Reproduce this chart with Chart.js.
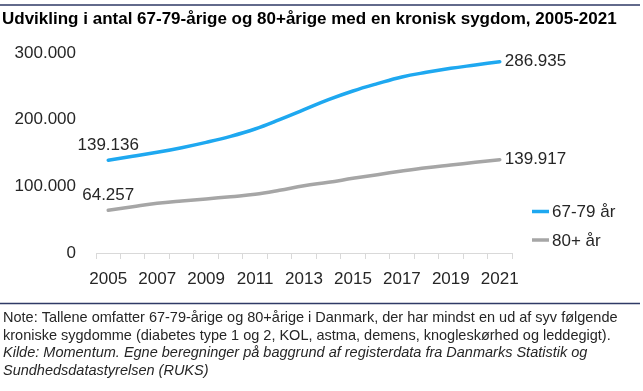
<!DOCTYPE html>
<html>
<head>
<meta charset="utf-8">
<script src="https://cdn.jsdelivr.net/npm/chart.js@4"></script>
<style>
  html, body { margin: 0; padding: 0; background: #fff; }
  #wrap { width: 643px; height: 391px; position: relative; }
</style>
</head>
<body>
<div id="wrap"><canvas id="chart"></canvas></div>
<script>
const years = ['2005', '2006', '2007', '2008', '2009', '2010', '2011', '2012', '2013',
               '2014', '2015', '2016', '2017', '2018', '2019', '2020', '2021'];
const age6779 = [139136, 145000, 151000, 158000, 166000, 175000, 186000, 200000, 215000,
                 230000, 243000, 254000, 264000, 271000, 277000, 282000, 286935];
const age80 = [64257, 69500, 74500, 78000, 81000, 84500, 88000, 94000, 101000,
               106000, 112000, 117500, 123000, 128000, 132000, 136000, 139917];
const yTicks = [0, 100000, 200000, 300000];
const seriesNames = ['67-79 år', '80+ år'];

const titleText = 'Udvikling i antal 67-79-årige og 80+årige med en kronisk sygdom, 2005-2021';
const noteLines = [
  'Note: Tallene omfatter 67-79-årige og 80+årige i Danmark, der har mindst en ud af syv følgende',
  'kroniske sygdomme (diabetes type 1 og 2, KOL, astma, demens, knogleskørhed og leddegigt).'
];
const sourceLines = [
  'Kilde: Momentum. Egne beregninger på baggrund af registerdata fra Danmarks Statistik og',
  'Sundhedsdatastyrelsen (RUKS)'
];

const FONT = '"Liberation Sans", Arial, sans-serif';
const TEXT = '#262626';

function fmt(v) {
  return v.toLocaleString('da-DK');
}

// title, rules, footnote and legend
const frame = {
  id: 'frame',
  afterDraw(chart) {
    const ctx = chart.ctx;
    ctx.save();
    ctx.strokeStyle = '#2f3a66';
    ctx.lineWidth = 1.5;
    ctx.beginPath();
    ctx.moveTo(0, 5); ctx.lineTo(640, 5);
    ctx.moveTo(0, 303.5); ctx.lineTo(640, 303.5);
    ctx.stroke();

    ctx.fillStyle = '#000';
    ctx.textBaseline = 'alphabetic';
    ctx.textAlign = 'left';
    ctx.font = 'bold 17px ' + FONT;
    ctx.fillText(titleText, 2, 24);

    ctx.fillStyle = TEXT;
    ctx.font = '14.5px ' + FONT;
    noteLines.forEach((t, i) => ctx.fillText(t, 3, 322 + i * 17.6));
    ctx.font = 'italic 14.5px ' + FONT;
    sourceLines.forEach((t, i) => ctx.fillText(t, 3, 357 + i * 17.6));

    // legend
    ctx.font = '17px ' + FONT;
    ctx.textBaseline = 'middle';
    chart.data.datasets.forEach((ds, i) => {
      const y = 211.5 + i * 28.5;
      ctx.strokeStyle = ds.borderColor;
      ctx.lineWidth = 3.5;
      ctx.beginPath();
      ctx.moveTo(532, y); ctx.lineTo(549, y);
      ctx.stroke();
      ctx.fillStyle = TEXT;
      ctx.fillText(ds.label, 552, y + 1);
    });
    ctx.restore();
  }
};

// labels on first and last point
const endLabels = {
  id: 'endLabels',
  afterDatasetsDraw(chart) {
    const ctx = chart.ctx;
    ctx.save();
    ctx.font = '17px ' + FONT;
    ctx.fillStyle = TEXT;
    chart.data.datasets.forEach((ds, i) => {
      const pts = chart.getDatasetMeta(i).data;
      const first = pts[0], last = pts[pts.length - 1];
      ctx.textAlign = 'center';
      ctx.textBaseline = 'alphabetic';
      ctx.fillText(fmt(ds.data[0]), first.x, first.y - 10);
      ctx.textAlign = 'left';
      ctx.textBaseline = 'middle';
      ctx.fillText(fmt(ds.data[ds.data.length - 1]), last.x + 5, last.y);
    });
    ctx.restore();
  }
};

new Chart(document.getElementById('chart'), {
  type: 'line',
  data: {
    labels: years,
    datasets: [
      { label: seriesNames[0], data: age6779, borderColor: 'rgb(30,168,240)' },
      { label: seriesNames[1], data: age80, borderColor: 'rgb(166,166,166)' }
    ]
  },
  options: {
    responsive: true,
    maintainAspectRatio: false,
    animation: false,
    elements: {
      line: { borderWidth: 3.5, tension: 0.4, borderCapStyle: 'round' },
      point: { radius: 0 }
    },
    layout: { padding: { left: 0, right: 131, top: 53, bottom: 98 } },
    plugins: {
      legend: { display: false },
      tooltip: { enabled: false }
    },
    scales: {
      x: {
        offset: true,
        afterFit(scale) { scale.height = 40; },
        grid: { offset: true, drawOnChartArea: false, drawTicks: true, tickLength: 6, color: '#d9d9d9' },
        border: { display: true, color: '#d9d9d9' },
        ticks: {
          autoSkip: false,
          maxRotation: 0,
          padding: 10,
          color: TEXT,
          font: { family: FONT, size: 17 },
          callback: (v, i) => (i % 2 === 0 ? years[i] : '')
        }
      },
      y: {
        min: 0,
        max: 300000,
        afterFit(scale) { scale.width = 96; },
        afterBuildTicks(scale) { scale.ticks = yTicks.map(v => ({ value: v })); },
        grid: { display: false },
        border: { display: false },
        ticks: {
          padding: 12,
          color: TEXT,
          font: { family: FONT, size: 17 },
          callback: v => fmt(v)
        }
      }
    }
  },
  plugins: [endLabels, frame]
});
</script>
</body>
</html>
